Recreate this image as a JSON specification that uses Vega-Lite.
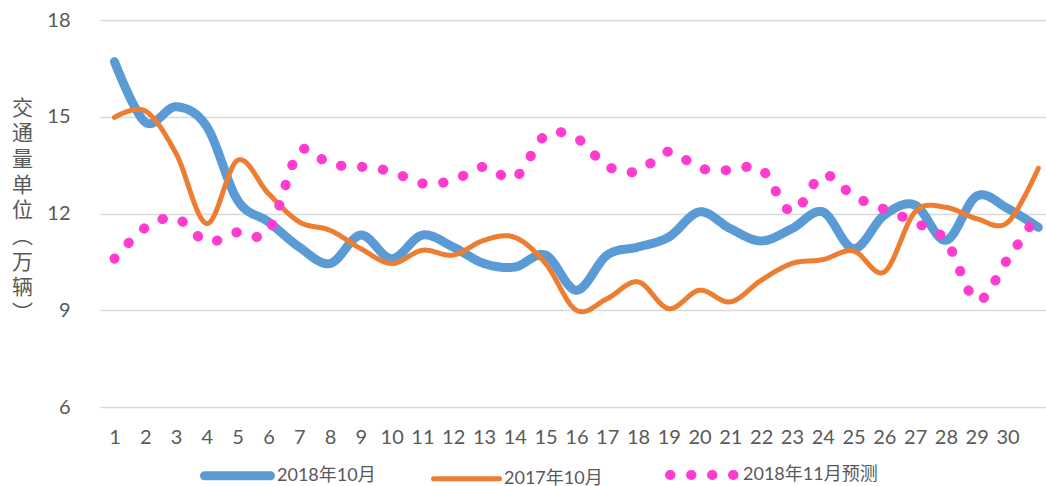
{
  "$schema": "https://vega.github.io/schema/vega-lite/v6.json",
  "width": 946,
  "height": 387,
  "autosize": {"type": "none"},
  "padding": {"left": 100, "top": 20, "right": 0, "bottom": 79},
  "background": "white",
  "config": {"view": {"stroke": null}, "font": "Lato"},
  "datasets": {
    "d": [
      {"day":1,"series":"2018年10月","value":16.71},{"day":2,"series":"2018年10月","value":14.83},{"day":3,"series":"2018年10月","value":15.31},{"day":4,"series":"2018年10月","value":14.69},{"day":5,"series":"2018年10月","value":12.41},{"day":6,"series":"2018年10月","value":11.74},{"day":7,"series":"2018年10月","value":10.96},{"day":8,"series":"2018年10月","value":10.45},{"day":9,"series":"2018年10月","value":11.33},{"day":10,"series":"2018年10月","value":10.6},{"day":11,"series":"2018年10月","value":11.33},{"day":12,"series":"2018年10月","value":10.96},{"day":13,"series":"2018年10月","value":10.45},{"day":14,"series":"2018年10月","value":10.34},{"day":15,"series":"2018年10月","value":10.71},{"day":16,"series":"2018年10月","value":9.62},{"day":17,"series":"2018年10月","value":10.71},{"day":18,"series":"2018年10月","value":10.96},{"day":19,"series":"2018年10月","value":11.27},{"day":20,"series":"2018年10月","value":12.05},{"day":21,"series":"2018年10月","value":11.53},{"day":22,"series":"2018年10月","value":11.15},{"day":23,"series":"2018年10月","value":11.53},{"day":24,"series":"2018年10月","value":12.05},{"day":25,"series":"2018年10月","value":10.91},{"day":26,"series":"2018年10月","value":11.95},{"day":27,"series":"2018年10月","value":12.26},{"day":28,"series":"2018年10月","value":11.17},{"day":29,"series":"2018年10月","value":12.54},{"day":30,"series":"2018年10月","value":12.16},{"day":31,"series":"2018年10月","value":11.57},
      {"day":1,"series":"2017年10月","value":14.98},{"day":2,"series":"2017年10月","value":15.18},{"day":3,"series":"2017年10月","value":13.86},{"day":4,"series":"2017年10月","value":11.69},{"day":5,"series":"2017年10月","value":13.65},{"day":6,"series":"2017年10月","value":12.62},{"day":7,"series":"2017年10月","value":11.74},{"day":8,"series":"2017年10月","value":11.48},{"day":9,"series":"2017年10月","value":10.91},{"day":10,"series":"2017年10月","value":10.45},{"day":11,"series":"2017年10月","value":10.86},{"day":12,"series":"2017年10月","value":10.71},{"day":13,"series":"2017年10月","value":11.17},{"day":14,"series":"2017年10月","value":11.26},{"day":15,"series":"2017年10月","value":10.45},{"day":16,"series":"2017年10月","value":9.0},{"day":17,"series":"2017年10月","value":9.36},{"day":18,"series":"2017年10月","value":9.88},{"day":19,"series":"2017年10月","value":9.05},{"day":20,"series":"2017年10月","value":9.62},{"day":21,"series":"2017年10月","value":9.26},{"day":22,"series":"2017年10月","value":9.93},{"day":23,"series":"2017年10月","value":10.45},{"day":24,"series":"2017年10月","value":10.57},{"day":25,"series":"2017年10月","value":10.84},{"day":26,"series":"2017年10月","value":10.19},{"day":27,"series":"2017年10月","value":12.05},{"day":28,"series":"2017年10月","value":12.19},{"day":29,"series":"2017年10月","value":11.84},{"day":30,"series":"2017年10月","value":11.72},{"day":31,"series":"2017年10月","value":13.4},
      {"day":1,"series":"2018年11月预测","value":10.6},{"day":2,"series":"2018年11月预测","value":11.56},{"day":3,"series":"2018年11月预测","value":11.85},{"day":4,"series":"2018年11月预测","value":11.13},{"day":5,"series":"2018年11月预测","value":11.42},{"day":6,"series":"2018年11月预测","value":11.45},{"day":7,"series":"2018年11月预测","value":13.91},{"day":8,"series":"2018年11月预测","value":13.53},{"day":9,"series":"2018年11月预测","value":13.45},{"day":10,"series":"2018年11月预测","value":13.3},{"day":11,"series":"2018年11月预测","value":12.93},{"day":12,"series":"2018年11月预测","value":13.03},{"day":13,"series":"2018年11月预测","value":13.45},{"day":14,"series":"2018年11月预测","value":13.11},{"day":15,"series":"2018年11月预测","value":14.43},{"day":16,"series":"2018年11月预测","value":14.34},{"day":17,"series":"2018年11月预测","value":13.47},{"day":18,"series":"2018年11月预测","value":13.31},{"day":19,"series":"2018年11月预测","value":13.92},{"day":20,"series":"2018年11月预测","value":13.41},{"day":21,"series":"2018年11月预测","value":13.34},{"day":22,"series":"2018年11月预测","value":13.38},{"day":23,"series":"2018年11月预测","value":12.05},{"day":24,"series":"2018年11月预测","value":13.2},{"day":25,"series":"2018年11月预测","value":12.54},{"day":26,"series":"2018年11月预测","value":12.13},{"day":27,"series":"2018年11月预测","value":11.72},{"day":28,"series":"2018年11月预测","value":11.16},{"day":29,"series":"2018年11月预测","value":9.31},{"day":30,"series":"2018年11月预测","value":10.58},{"day":31,"series":"2018年11月预测","value":12.0}
    ]
  },
  "data": {"name": "d"},
  "encoding": {
    "x": {
      "field": "day", "type": "quantitative",
      "scale": {"domain": [0.53, 31.25], "nice": false, "zero": false},
      "axis": {
        "title": null, "values": [1,2,3,4,5,6,7,8,9,10,11,12,13,14,15,16,17,18,19,20,21,22,23,24,25,26,27,28,29,30],
        "grid": false, "domain": false, "ticks": false, "labelPadding": 20,
        "labelFontSize": 20, "labelColor": "#595959", "labelFont": "Lato", "labelOverlap": false, "labelFlush": false
      }
    },
    "y": {
      "field": "value", "type": "quantitative",
      "scale": {"domain": [6, 18], "nice": false, "zero": false},
      "axis": {
        "values": [6, 9, 12, 15, 18], "grid": true, "gridColor": "#d9d9d9", "gridWidth": 1.3,
        "domain": false, "ticks": false, "labelPadding": 30, "labelFontSize": 20, "labelColor": "#595959", "labelFont": "Lato",
        "title": ["交","通","量","单","位","︵","万","辆","︶"],
        "titleAngle": 0, "titleX": -78, "titleY": 88, "titleAlign": "center", "titleBaseline": "middle",
        "titleLineHeight": 25.7, "titleFontSize": 21, "titleFontWeight": "normal", "titleColor": "#595959", "titleFont": "Noto Sans CJK SC"
      }
    },
    "color": {
      "field": "series", "type": "nominal",
      "scale": {"domain": ["2018年10月","2017年10月","2018年11月预测"], "range": ["#5B9BD5","#ED7D31","#FF3CCF"]},
      "legend": {
        "title": null, "orient": "none", "legendX": 100, "legendY": 417, "direction": "horizontal",
        "symbolType": "stroke", "symbolSize": 4356, "labelFontSize": 18, "labelColor": "#595959",
        "labelFont": "Lato, Noto Sans CJK SC", "columnPadding": 47, "labelOffset": 2, "labelLimit": 300,
        "encode": {"symbols": {"update": {"strokeCap": {"value": "round"}}}}
      }
    },
    "strokeWidth": {
      "field": "series", "type": "nominal",
      "scale": {"type": "ordinal", "domain": ["2018年10月","2017年10月","2018年11月预测"], "range": [9, 5, 10]}
    },
    "strokeDash": {
      "field": "series", "type": "nominal",
      "scale": {"domain": ["2018年10月","2017年10月","2018年11月预测"], "range": [[1,0],[1,0],[0.5,20.5]]}
    }
  },
  "layer": [
    {"transform": [{"filter": "datum.series === '2018年10月'"}], "mark": {"type": "line", "interpolate": "cardinal", "strokeCap": "round", "strokeJoin": "round", "clip": true}},
    {"transform": [{"filter": "datum.series === '2017年10月'"}], "mark": {"type": "line", "interpolate": "cardinal", "strokeCap": "round", "strokeJoin": "round", "clip": true}},
    {"transform": [{"filter": "datum.series === '2018年11月预测'"}], "mark": {"type": "line", "interpolate": "cardinal", "strokeCap": "round", "strokeJoin": "round", "clip": true}}
  ]
}
